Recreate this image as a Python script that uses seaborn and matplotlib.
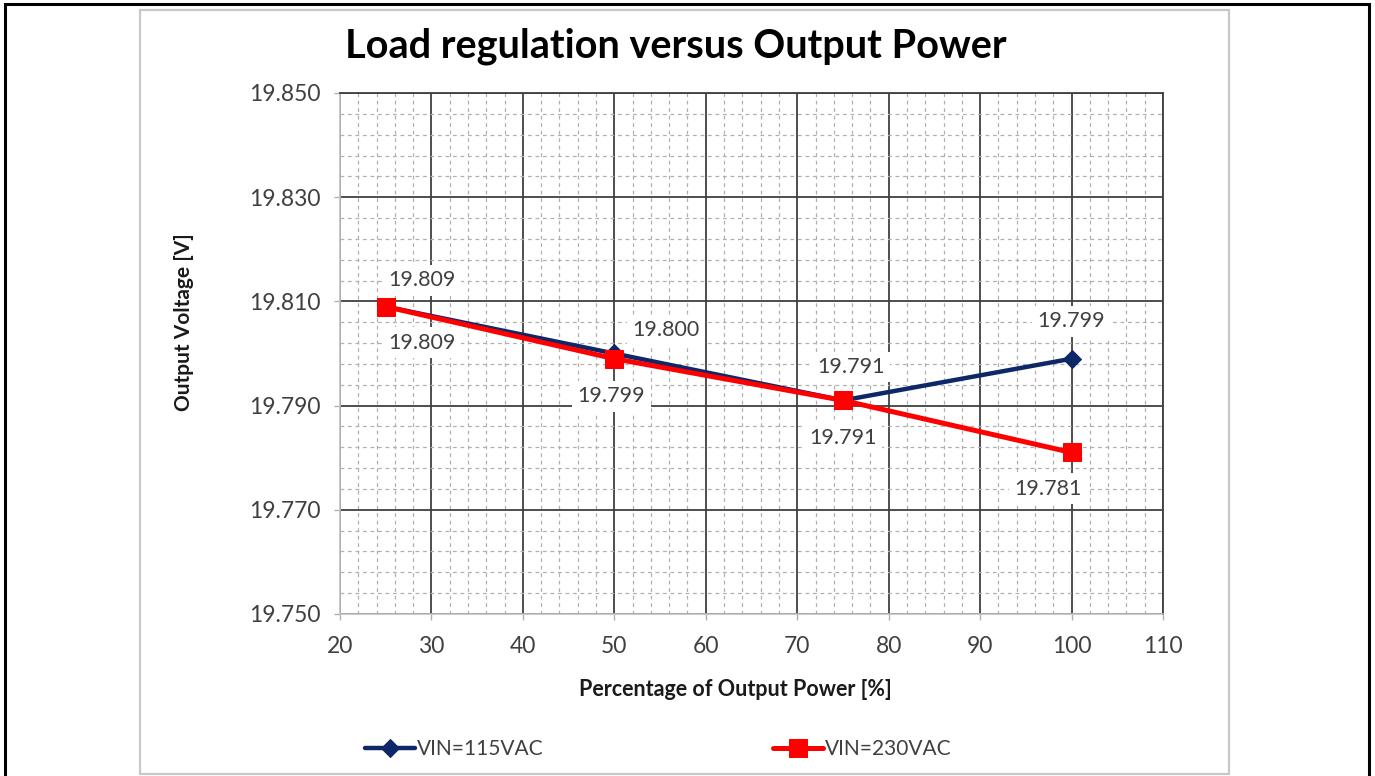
import matplotlib
matplotlib.use("Agg")
import matplotlib.pyplot as plt
import seaborn as sns
import pandas as pd
from matplotlib.patches import Rectangle
from matplotlib.ticker import FixedLocator, AutoMinorLocator, MultipleLocator

# ---- data ----
power_pct = [25, 50, 75, 100]
vout_115 = [19.809, 19.800, 19.791, 19.799]
vout_230 = [19.809, 19.799, 19.791, 19.781]
series_names = ["VIN=115VAC", "VIN=230VAC"]
x_ticks = [20, 30, 40, 50, 60, 70, 80, 90, 100, 110]
y_ticks = [19.750, 19.770, 19.790, 19.810, 19.830, 19.850]
y_tick_labels = ["19.750", "19.770", "19.790", "19.810", "19.830", "19.850"]
title_text = "Load regulation versus Output Power"
xlabel_text = "Percentage of Output Power [%]"
ylabel_text = "Output Voltage [V]"

sns.set_style("white")
plt.rcParams["font.family"] = ["Lato", "DejaVu Sans"]

W, H = 1375, 776
fig = plt.figure(figsize=(W / 100, H / 100), dpi=100)
ax = fig.add_axes([340 / W, 1 - 614 / H, (1163 - 340) / W, (614 - 93) / H])

# frames
fig.patches.append(Rectangle((5 / W, -0.05), (1369 - 5) / W, 1.05 - 4 / H, transform=fig.transFigure,
                             fill=False, edgecolor="black", linewidth=2.2, zorder=0))
fig.patches.append(Rectangle((140 / W, 1 - 774 / H), (1229 - 140) / W, (774 - 10) / H, transform=fig.transFigure,
                             fill=False, edgecolor="#c8c8c8", linewidth=1.6, zorder=0))

df = pd.DataFrame({"x": power_pct * 2, "y": vout_115 + vout_230,
                   "s": [series_names[0]] * 4 + [series_names[1]] * 4})

blue = "#0d2769"
red = "#ff0000"
sns.lineplot(data=df[df.s == series_names[0]], x="x", y="y", ax=ax, color=blue, linewidth=3.2,
             marker="D", markersize=9, markeredgecolor=blue, label=series_names[0], zorder=4)
sns.lineplot(data=df[df.s == series_names[1]], x="x", y="y", ax=ax, color=red, linewidth=3.6,
             marker="s", markersize=13, markeredgecolor=red, label=series_names[1], zorder=5)

ax.set_xlim(x_ticks[0], x_ticks[-1])
ax.set_ylim(y_ticks[0], y_ticks[-1])
ax.xaxis.set_major_locator(FixedLocator(x_ticks))
ax.xaxis.set_minor_locator(MultipleLocator(2))
ax.yaxis.set_major_locator(FixedLocator(y_ticks))
ax.set_yticklabels(y_tick_labels)
ax.yaxis.set_minor_locator(AutoMinorLocator(5))

ax.grid(which="major", color="#404040", linewidth=1.3, linestyle="-", zorder=1)
ax.grid(which="minor", color="#b0b0b0", linewidth=0.9, linestyle=(0, (3, 3)), zorder=1)
ax.set_axisbelow(True)

for side in ["top", "right"]:
    ax.spines[side].set_color("#404040")
    ax.spines[side].set_linewidth(1.3)
for side in ["left", "bottom"]:
    ax.spines[side].set_color("#c0c0c0")
    ax.spines[side].set_linewidth(1.2)

ax.tick_params(axis="both", which="major", labelsize=16.5, labelcolor="#404040", color="#b0b0b0",
               length=4, width=1, direction="out", left=True, bottom=True)
ax.tick_params(axis="y", pad=10)
ax.tick_params(axis="x", pad=12)

ax.set_xlabel(xlabel_text, fontsize=15.5, fontweight="bold", color="#1a1a1a")
ax.set_ylabel(ylabel_text, fontsize=15, fontweight="bold", color="#1a1a1a")
ax.xaxis.set_label_coords(0.481, -0.125)
ax.yaxis.set_label_coords(-0.177, 0.56)

fig.text(676 / W, 1 - 46 / H, title_text, ha="center", va="center", fontsize=28.5,
         fontweight="bold", color="black")

# data labels
offs_115 = [(26, 19), (37, 17), (6, 24), (0, 27)]
offs_230 = [(26, -26), (-2, -27), (0, -27), (-17, -26)]
box = dict(boxstyle="square,pad=0.25", facecolor="white", edgecolor="none")
for xv, yv, o in zip(power_pct, vout_115, offs_115):
    ax.annotate(f"{yv:.3f}", (xv, yv), xytext=o, textcoords="offset points", ha="center", va="center",
                fontsize=15.5, color="#404040", bbox=box, zorder=3)
for xv, yv, o in zip(power_pct, vout_230, offs_230):
    ax.annotate(f"{yv:.3f}", (xv, yv), xytext=o, textcoords="offset points", ha="center", va="center",
                fontsize=15.5, color="#404040", bbox=box, zorder=3)

leg = ax.legend(loc="center", bbox_to_anchor=(658 / W, 1 - 749 / H), bbox_transform=fig.transFigure,
                ncol=2, frameon=False, fontsize=15, handlelength=2.4, handletextpad=0.1, columnspacing=11)
for t in leg.get_texts():
    t.set_color("#404040")

fig.savefig("out.png", dpi=100, facecolor="white")
